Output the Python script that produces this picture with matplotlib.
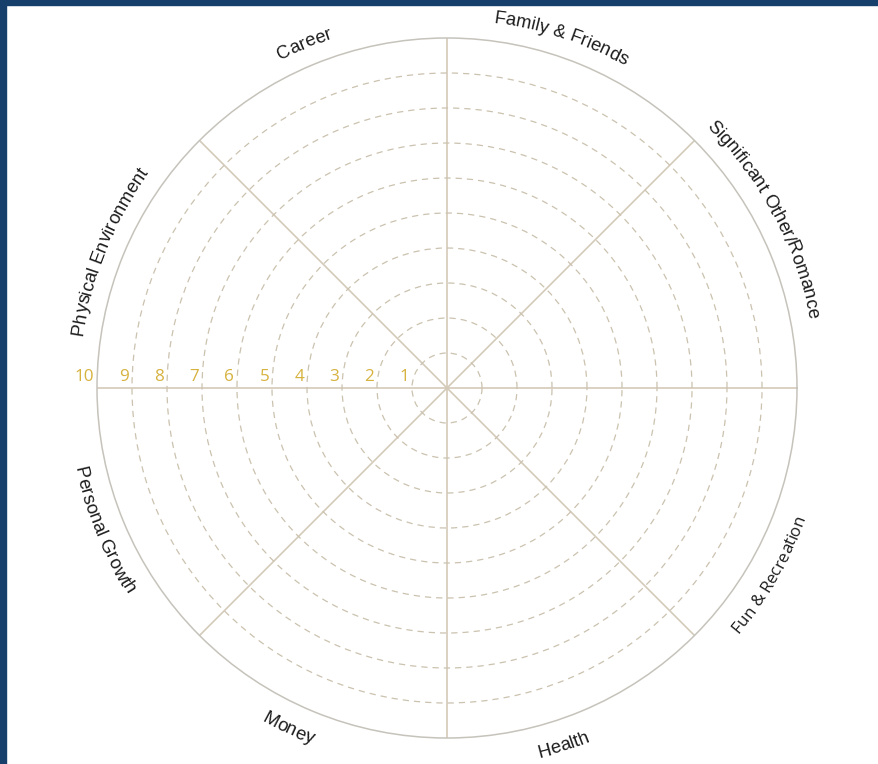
import numpy as np
import matplotlib
matplotlib.use('Agg')
import matplotlib.pyplot as plt
from matplotlib.patches import Rectangle
from matplotlib import transforms
from matplotlib.font_manager import FontProperties, findfont
from matplotlib.ft2font import FT2Font

# wheel categories and the angle (deg, CCW from east) where each label is centred
labels = ["Significant Other/Romance", "Family & Friends", "Career",
          "Physical Environment", "Personal Growth", "Money", "Health",
          "Fun & Recreation"]
label_angles = [28, 72, 112.5, 158, 202.5, 245, 288, 330]
label_fonts = ["Liberation Sans"] * 7 + ["Open Sans"]
label_sizes = [13.3] * 7 + [12.2]

spokes = [0, 45, 90, 135, 180, 225, 270, 315]
rings = [1, 2, 3, 4, 5, 6, 7, 8, 9]
scale_ticks = [10, 9, 8, 7, 6, 5, 4, 3, 2, 1]
r_max = 10

DPI = 100
W, H = 879, 764
fig = plt.figure(figsize=(W / DPI, H / DPI), dpi=DPI)
fig.patch.set_facecolor('white')

# dark blue frame on the left and top edges
fig.add_artist(Rectangle((0, 0), 6 / W, 1, transform=fig.transFigure,
                         color='#173f6b', zorder=10))
fig.add_artist(Rectangle((0, 1 - 5 / H), 1, 5 / H, transform=fig.transFigure,
                         color='#173f6b', zorder=10))

size_px = 700
ax = fig.add_axes([97 / W, 26 / H, size_px / W, size_px / H], projection='polar')
ax.set_facecolor('white')
ax.set_rlim(0, r_max)
ax.set_thetagrids(spokes)
ax.set_rgrids(rings)
ax.set_xticklabels([])
ax.set_yticklabels([])
ax.tick_params(length=0)
ax.xaxis.grid(True, color='#d4cab9', linestyle='-', linewidth=1.2)
ax.yaxis.grid(True, color='#cbc2af', linestyle=(0, (5, 4)), linewidth=0.9)
ax.spines['polar'].set_color('#c6c3bb')
ax.spines['polar'].set_linewidth(1.1)

px_per_unit = size_px / 2 / r_max

# scale numbers along the left horizontal spoke
num_tr = transforms.offset_copy(ax.transData, fig=fig, x=0, y=3, units='dots')
for t in scale_ticks:
    ax.text(np.pi, t + 0.08, str(t), transform=num_tr, ha='right', va='bottom',
            fontsize=12.3, family='Open Sans', color='#d6b23e', clip_on=False)


def advances(text, family, size):
    fp = FontProperties(family=family, size=size)
    font = FT2Font(findfont(fp))
    font.set_size(size, DPI)
    out = []
    for ch in text:
        g = font.load_char(ord(ch))
        out.append(g.linearHoriAdvance / 65536)
    return np.array(out)


# curved labels round the outside of the wheel
for text, ang, fam, fs in zip(labels, label_angles, label_fonts, label_sizes):
    adv = advances(text, fam, fs)
    total = adv.sum()
    centers = np.cumsum(adv) - adv / 2 - total / 2
    top = 0 < ang < 180
    r_px = 368 if top else 381
    for ch, s in zip(text, centers):
        if top:
            th = np.radians(ang) - s / r_px
            rot = np.degrees(th) - 90
        else:
            th = np.radians(ang) + s / r_px
            rot = np.degrees(th) + 90
        ax.text(th, r_px / px_per_unit, ch, rotation=rot, rotation_mode='anchor',
                ha='center', va='baseline', fontsize=fs, family=fam,
                color='#1c1c1c', clip_on=False)

plt.savefig('out.png', dpi=DPI)
